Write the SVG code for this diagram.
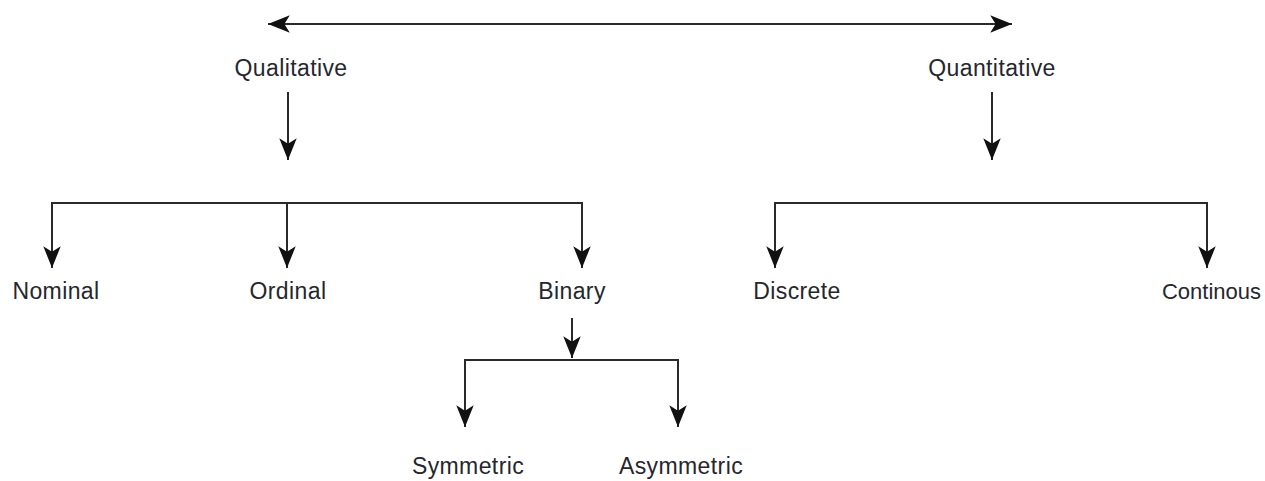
<svg xmlns="http://www.w3.org/2000/svg" width="1265" height="481" viewBox="0 0 1265 481">
  <style>
    .lbl { font-family: "Liberation Sans", Arial, sans-serif; font-size: 23px; letter-spacing: 0.4px; fill: #26262e; text-anchor: middle; }
    .wire { fill: none; stroke: #2a2a2a; stroke-width: 2; }
  </style>
  <defs>
    <marker id="head" markerUnits="userSpaceOnUse" markerWidth="24" markerHeight="20" viewBox="-21 -9 22 18" refX="0" refY="0" orient="auto-start-reverse">
      <path d="M0,0 L-20,-8 L-15,0 L-20,8 Z" fill="#111"/>
    </marker>
  </defs>
  <rect width="1265" height="481" fill="#ffffff"/>

  <g id="connectors">
    <!-- two-way link between the two top categories -->
    <path class="wire" d="M268,24 H1012" marker-start="url(#head)" marker-end="url(#head)"/>
    <path class="wire" d="M288,92 V160" marker-end="url(#head)"/>
    <path class="wire" d="M992,92 V160" marker-end="url(#head)"/>
    <!-- qualitative branches -->
    <path class="wire" d="M287,203 H52 V268" marker-end="url(#head)"/>
    <path class="wire" d="M287,203 V268" marker-end="url(#head)"/>
    <path class="wire" d="M287,203 H582 V268" marker-end="url(#head)"/>
    <!-- quantitative branches -->
    <path class="wire" d="M991,203 H775 V268" marker-end="url(#head)"/>
    <path class="wire" d="M991,203 H1207 V268" marker-end="url(#head)"/>
    <!-- binary branches -->
    <path class="wire" d="M572,318 V358" marker-end="url(#head)"/>
    <path class="wire" d="M572,360 H465 V427" marker-end="url(#head)"/>
    <path class="wire" d="M572,360 H678 V427" marker-end="url(#head)"/>
  </g>

  <g id="qualitative"><text class="lbl" x="291" y="76">Qualitative</text></g>
  <g id="quantitative"><text class="lbl" x="992" y="76">Quantitative</text></g>
  <g id="nominal"><text class="lbl" x="56" y="299">Nominal</text></g>
  <g id="ordinal"><text class="lbl" x="288" y="299">Ordinal</text></g>
  <g id="binary"><text class="lbl" x="572" y="299">Binary</text></g>
  <g id="discrete"><text class="lbl" x="797" y="299">Discrete</text></g>
  <g id="continous"><text class="lbl" x="1261" y="299" style="text-anchor:end;letter-spacing:0;font-size:22px">Continous</text></g>
  <g id="symmetric"><text class="lbl" x="468" y="474">Symmetric</text></g>
  <g id="asymmetric"><text class="lbl" x="681" y="474">Asymmetric</text></g>
</svg>
